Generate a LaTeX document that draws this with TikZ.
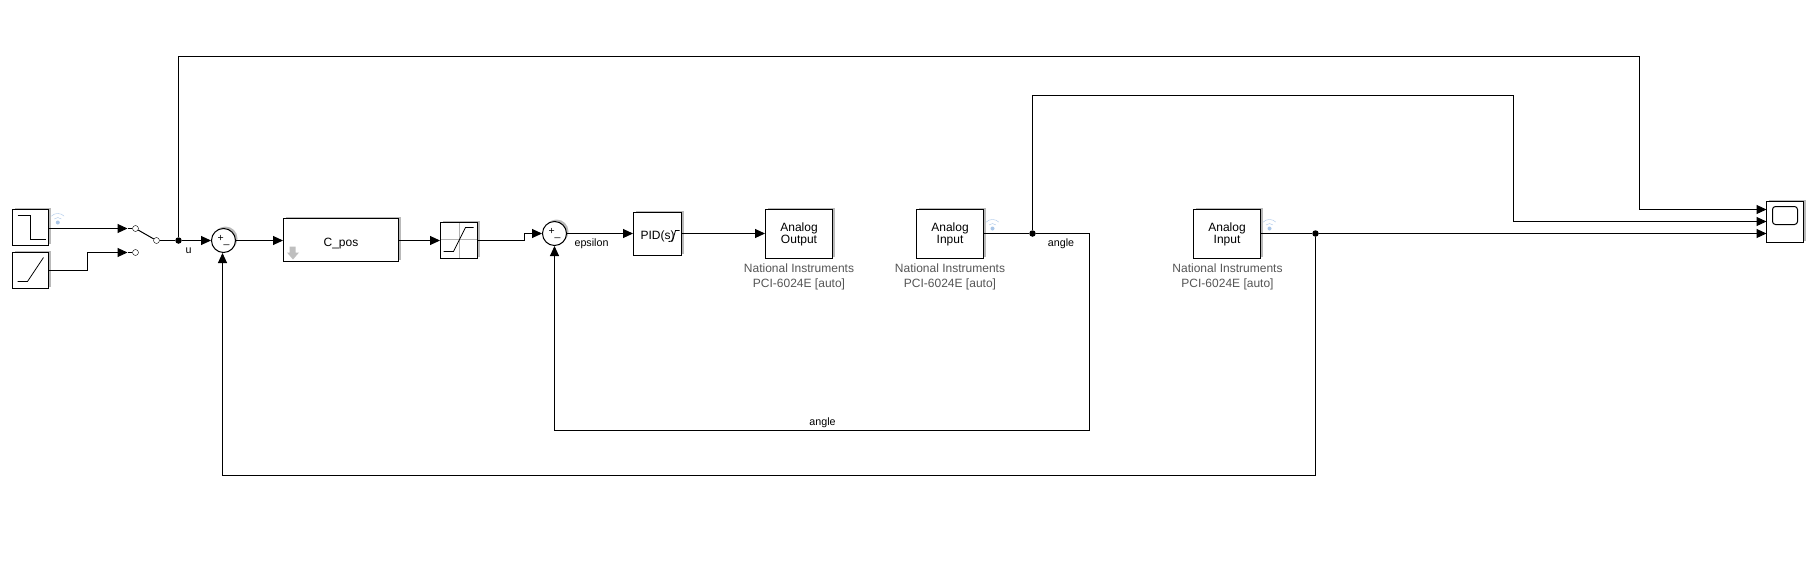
\documentclass[tikz,border=0pt]{standalone}
\usepackage{fontspec}
\setmainfont{Liberation Sans}
\usetikzlibrary{arrows.meta,shadows}
\definecolor{wifiblue}{RGB}{170,198,232}
\definecolor{sublabel}{RGB}{85,85,85}
\begin{document}
\begin{tikzpicture}[x=1pt,y=-1pt,
        myshadow/.style={drop shadow={shadow xshift=2pt,shadow yshift=2pt,fill=black!50,opacity=.55}},
        myblock/.style={draw,line width=1pt,fill=white,inner sep=0pt,myshadow,align=center,font=\fontsize{12}{12}\selectfont,execute at begin node={\rule{0pt}{14.5pt}}},
        mysum/.style={draw,line width=1pt,circle,fill=white,inner sep=0pt,minimum size=24pt,myshadow,font=\fontsize{10.5}{10.5}\selectfont},
        myport/.style={draw,circle,fill=white,inner sep=0pt,minimum size=6pt},
        mydot/.style={circle,fill=black,inner sep=0pt,minimum size=6.5pt},
        mywire/.style={line width=1pt},
        myarrow/.style={line width=1pt,-{Triangle[length=10pt,width=9pt]}},
        mylabel/.style={font=\fontsize{10.7}{12}\selectfont},
        myinfo/.style={align=center,text=sublabel,font=\fontsize{12}{15.5}\selectfont},
        myicon/.style={line width=.8pt}]

        \useasboundingbox (-0.5,-0.5) rectangle (1812.5,565.5);

        %source blocks
        \node[myblock,minimum width=36pt,minimum height=36pt] (step) at (30,227) {};
        \node[myblock,minimum width=36pt,minimum height=36pt] (ramp) at (30,270) {};

        %switch
        \node[myport] (swa) at (135,228) {};
        \node[myport] (swb) at (135,252) {};
        \node[myport] (swc) at (156,240) {};
        \coordinate (swain) at (127,228);
        \coordinate (swbin) at (127,252);
        \coordinate (rampknee) at (87,252);

        %forward path
        \node[mysum] (sumpos) at (223,240) {\raisebox{0pt}{+}\raisebox{-2pt}{\_}};
        \node[myblock,minimum width=115pt,minimum height=43pt] (cpos) at (340.5,239.5) {C\_pos};
        \node[myblock,minimum width=37pt,minimum height=36pt] (sat) at (458.5,240) {};
        \node[mysum] (sumang) at (554,233) {\raisebox{0pt}{+}\raisebox{-2pt}{\_}};
        \node[myblock,minimum width=48pt,minimum height=43pt] (pid) at (657,233.5) {};
        \node[myblock,minimum width=67pt,minimum height=49pt] (aout) at (798.5,233.5) {Analog\\Output};
        \node[myblock,minimum width=67pt,minimum height=49pt] (ainA) at (949.5,233.5) {Analog\\Input};
        \node[myblock,minimum width=67pt,minimum height=49pt] (ainB) at (1226.5,233.5) {Analog\\Input};
        \node[myblock,minimum width=37pt,minimum height=41pt] (scope) at (1784.5,221.5) {};

        %info below the io blocks
        \node[myinfo] (aoutinfo) at (798.5,276.5) {National Instruments\\PCI-6024E [auto]};
        \node[myinfo] (ainAinfo) at (949.5,276.5) {National Instruments\\PCI-6024E [auto]};
        \node[myinfo] (ainBinfo) at (1227,276.5) {National Instruments\\PCI-6024E [auto]};

        %junctions
        \node[mydot] (ju) at (178,240) {};
        \node[mydot] (jA) at (1032,233) {};
        \node[mydot] (jB) at (1315,233) {};

        %corners of the long wires
        \coordinate (topleft) at (178,56);
        \coordinate (topright) at (1639,56);
        \coordinate (midleft) at (1032,94.5);
        \coordinate (midright) at (1513,94.5);
        \coordinate (angright) at (1089,233);
        \coordinate (angbot) at (1089,430);
        \coordinate (sumangbot) at (554,430);
        \coordinate (posbot) at (1315,475);
        \coordinate (sumposbot) at (222,475);
        \coordinate (satknee) at (524,239.5);

        %scope inputs
        \coordinate (scopeA) at (1766,209);
        \coordinate (scopeB) at (1766,221);
        \coordinate (scopeC) at (1766,233);

        %switch wires
        \draw [myarrow] (step.east |- swain) -- (swain);
        \draw [mywire] (swain) -- (swa);
        \draw [myarrow] (ramp.east) -| (rampknee) -- (swbin);
        \draw [mywire] (swbin) -- (swb);
        \draw [mywire] (swa) -- (swc);
        \draw [mywire] (swc) -- (ju);

        %forward wires
        \draw [myarrow] (ju) -- (sumpos);
        \draw [myarrow] (sumpos) -- (cpos.west |- sumpos);
        \draw [myarrow] (cpos.east |- sumpos) -- (sat.west |- sumpos);
        \draw [myarrow] (sat.east |- satknee) -- (satknee) |- (sumang.west);
        \draw [myarrow] (sumang) -- (pid.west |- sumang);
        \draw [myarrow] (pid.east |- sumang) -- (aout.west |- sumang);

        %long wires to the scope
        \draw [myarrow] (ju) -- (topleft) -- (topright) |- (scopeA);
        \draw [myarrow] (jA) -- (midleft) -- (midright) |- (scopeB);
        \draw [myarrow] (jB) -- (scopeC);

        %feedback wires
        \draw [mywire] (ainA.east |- jA) -- (jA) -- (angright);
        \draw [myarrow] (angright) -- (angbot) -- (sumangbot) -- (sumang.south);
        \draw [mywire] (ainB.east |- jB) -- (jB);
        \draw [myarrow] (jB) -- (posbot) -- (sumposbot) -- (sumposbot |- sumpos.south);

        %wire labels
        \node[mylabel] (ulabel) at (188,250) {u};
        \node[mylabel] (epslabel) at (591,243.5) {epsilon};
        \node[mylabel] (anglabelA) at (1060.5,243.5) {angle};
        \node[mylabel] (anglabelB) at (822,422.5) {angle};

        %block icons
        \draw [myicon] (17,215) -- (30,215) -- (30,239) -- (45,239);
        \draw [myicon] (17,281) -- (27,281) -- (43,257);
        \draw [gray!60] (459,222.5) -- (459,257.5);
        \draw [gray!60] (440.5,239) -- (476.5,239);
        \draw [myicon] (443,251) -- (453,251) -- (465,227) -- (473,227);
        \node[font=\fontsize{12}{13}\selectfont] (pidtext) at (657,235.5) {PID(s)};
        \draw [myicon] (668,241) -- (672,240.5) -- (675,230) -- (679,230);
        \draw [line width=1pt,rounded corners=3pt] (1772,206) rectangle (1797,224);
        \fill [black!25] (289,246) rectangle (295,252) (286.5,252) -- (298.5,252) -- (292.5,259) -- cycle;

        %signal icons
        \foreach \wx/\wy in {57.3/222,992/228,1269/228}{
                \fill [wifiblue] (\wx,\wy) circle [radius=2pt];
                \draw [wifiblue] (\wx-3.5,\wy-3.5) arc [start angle=225,end angle=315,radius=5];
                \draw [wifiblue] (\wx-6.4,\wy-6.4) arc [start angle=225,end angle=315,radius=9];
        }
\end{tikzpicture}
\end{document}
